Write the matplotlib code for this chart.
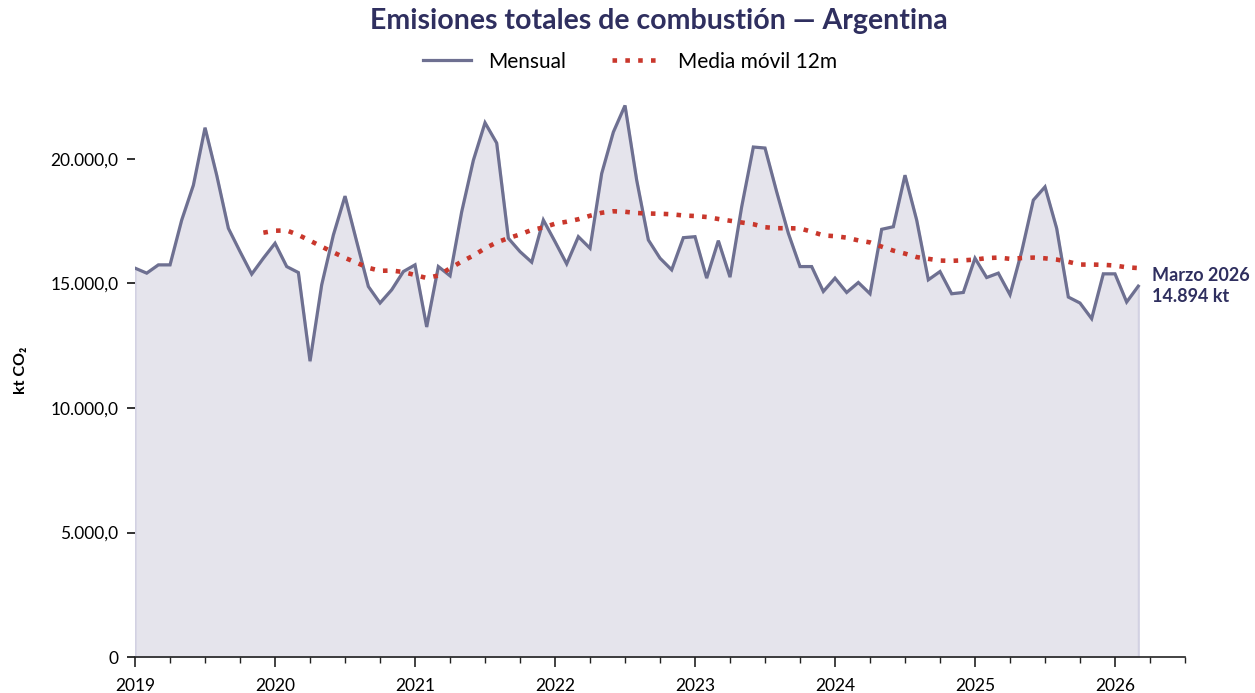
import matplotlib
matplotlib.use("Agg")
import matplotlib.pyplot as plt
from matplotlib.ticker import FuncFormatter, MultipleLocator

plt.rcParams['font.family'] = ['Lato', 'DejaVu Sans']

# monthly emissions, Jan 2019 .. Mar 2026 (kt CO2)
mensual = [15616, 15416, 15748, 15748, 17548, 18948, 21256, 19348, 17216, 16280, 15376, 16016,
           16616, 15680, 15440, 11880, 14948, 16948, 18508, 16680, 14880, 14216, 14748, 15480,
           15748, 13256, 15680, 15308, 17880, 19948, 21456, 20640, 16816, 16280, 15856, 17548,
           16680, 15788, 16880, 16416, 19416, 21080, 22148, 19150, 16748, 16016, 15548, 16840,
           16880, 15216, 16720, 15256, 18080, 20480, 20440, 18680, 17016, 15680, 15680, 14680,
           15216, 14640, 15040, 14588, 17176, 17280, 19348, 17548, 15148, 15480, 14588, 14640,
           16016, 15240, 15416, 14548, 16280, 18348, 18880, 17216, 14456, 14216, 13588, 15388,
           15388, 14256, 14894]

# 12-month moving average, Dec 2019 .. Mar 2026
media_movil = [17040, 17120, 17130, 16950, 16720, 16480, 16250, 16030, 15830, 15630, 15510, 15520,
               15460, 15340, 15220, 15320, 15610, 15880, 16120, 16410, 16650, 16820, 16970, 17150,
               17250, 17400, 17480, 17580, 17720, 17840, 17900, 17880, 17830, 17810, 17800, 17780,
               17730, 17710, 17670, 17590, 17520, 17450, 17380, 17260, 17220, 17220, 17210, 17080,
               16930, 16900, 16840, 16730, 16650, 16480, 16320, 16200, 16060, 15990, 15920, 15910,
               15930, 15960, 16020, 16040, 15990, 16020, 16040, 16010, 15960, 15870, 15760, 15760,
               15750, 15720, 15650, 15620]

years = ['2019', '2020', '2021', '2022', '2023', '2024', '2025', '2026']
yticks = [0, 5000, 10000, 15000, 20000]

x = list(range(len(mensual)))
x_ma = list(range(len(mensual) - len(media_movil), len(mensual)))

navy = '#2f2f5f'
line_c = '#6e7091'
fill_c = '#e5e4ec'
red = '#c9372c'

fig = plt.figure(figsize=(12.55, 6.93), dpi=100)
ax = fig.add_axes([0.1076, 0.0519, 0.8366, 0.8265])

ax.fill_between(x, 0, mensual, facecolor=fill_c, edgecolor='#d2d1e2', linewidth=1.5)
ax.plot(x, mensual, color=line_c, linewidth=2.3, label='Mensual', solid_joinstyle='miter')
ax.plot(x_ma, media_movil, color=red, linewidth=3.3, linestyle=(0, (1, 1.8)),
        label='Media móvil 12m')

ax.set_xlim(0, 90)
ax.set_ylim(0, 23000)
ax.xaxis.set_minor_locator(MultipleLocator(3))
ax.set_xticks(range(0, 12 * len(years), 12))
ax.set_xticklabels(years)
ax.set_yticks(yticks)
ax.yaxis.set_major_formatter(FuncFormatter(
    lambda v, p: '0' if v == 0 else f'{v:,.1f}'.replace(',', 'X').replace('.', ',').replace('X', '.')))

for s in ['top', 'right', 'left']:
    ax.spines[s].set_visible(False)
ax.spines['bottom'].set_color('#222222')
ax.spines['bottom'].set_linewidth(1.2)
ax.tick_params(axis='x', which='major', length=7, width=1.2, color='#222222', labelsize=12.5, pad=8)
ax.tick_params(axis='x', which='minor', length=4, width=1.0, color='#222222')
ax.tick_params(axis='y', length=6, width=1.3, color='#222222', labelsize=12.5, pad=6)
ax.set_ylabel('kt CO₂', fontsize=11.5, fontweight='bold', labelpad=16)

ax.text(len(mensual) + 0.2, mensual[-1], f'Marzo 2026\n{mensual[-1]:,} kt'.replace(',', '.'),
        color=navy, fontsize=13, fontweight='bold', va='center', ha='left', linespacing=1.3)

fig.suptitle('Emisiones totales de combustión — Argentina', x=0.525, y=0.988,
             fontsize=20.5, fontweight='bold', color=navy)
fig.legend(loc='center', bbox_to_anchor=(0.502, 0.911), ncol=2, frameon=False,
           fontsize=15, handlelength=2.3, handletextpad=0.85, columnspacing=2.2)

fig.savefig('out.png', dpi=100)
